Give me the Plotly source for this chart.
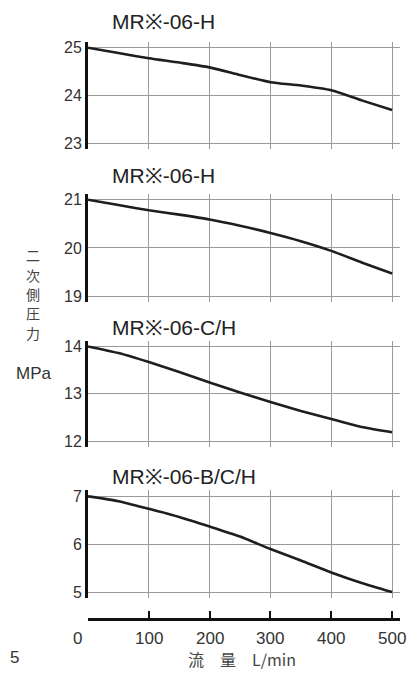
import plotly.graph_objects as go

# ---- data ----
flow = [0, 50, 100, 150, 200, 250, 300, 350, 400, 450, 500]
p_h1 = [25.0, 24.89, 24.78, 24.69, 24.59, 24.43, 24.28, 24.21, 24.11, 23.90, 23.70]
p_h2 = [21.0, 20.89, 20.78, 20.69, 20.59, 20.46, 20.31, 20.14, 19.94, 19.70, 19.47]
p_ch = [14.0, 13.86, 13.67, 13.46, 13.24, 13.03, 12.83, 12.64, 12.47, 12.30, 12.19]
p_bch = [7.0, 6.90, 6.74, 6.57, 6.37, 6.16, 5.90, 5.66, 5.41, 5.19, 5.0]
titles = ["MR※-06-H", "MR※-06-H", "MR※-06-C/H", "MR※-06-B/C/H"]
y_ticks = [[23, 24, 25], [19, 20, 21], [12, 13, 14], [5, 6, 7]]
x_ticks = [0, 100, 200, 300, 400, 500]
x_ticklabels = ["0", "100", "200", "300", "400", "500"]
y_title_chars = ["二", "次", "側", "圧", "力"]
y_unit = "MPa"
x_title = "流　量　L/min"

series = [p_h1, p_h2, p_ch, p_bch]

W, H = 418, 673
OFF = 8  # page body margin


def py(p):
    return 1 - (p - OFF) / H


def px(p):
    return (p - OFF) / W


# pixel layout of panels (top, bottom)
panels = [(40, 148), (193, 302), (341, 448), (492, 600)]
title_y = [20, 175, 328, 478]
FONT = "Liberation Sans, Arial, sans-serif"

fig = go.Figure()
for i, s in enumerate(series):
    n = i + 1
    fig.add_trace(go.Scatter(x=flow, y=s, mode="lines",
                             line=dict(color="#1e1e1e", width=2.6, shape="spline", smoothing=0.6),
                             xaxis=f"x{n}" if n > 1 else "x", yaxis=f"y{n}" if n > 1 else "y",
                             showlegend=False, hoverinfo="skip"))
    lo, hi = y_ticks[i][0], y_ticks[i][-1]
    xa = dict(domain=[px(88), px(400)], range=[0, 513], tickvals=x_ticks, showgrid=True,
              gridcolor="#9a9a9a", gridwidth=1, zeroline=False, showticklabels=False,
              showline=False, ticks="", anchor=f"y{n}" if n > 1 else "y")
    ya = dict(domain=[py(panels[i][1]), py(panels[i][0])], range=[lo - 0.115, hi + 0.125],
              tickvals=y_ticks[i], showgrid=True, gridcolor="#9a9a9a", gridwidth=1,
              zeroline=False, showline=True, linecolor="#111", linewidth=3,
              ticks="", tickfont=dict(family=FONT, size=16, color="#333"),
              anchor=f"x{n}" if n > 1 else "x")
    if n == 4:
        xa.update(anchor="free", position=py(622), showline=True, linecolor="#111", linewidth=2.5,
                  ticks="inside", ticklen=8, tickwidth=1.5, tickcolor="#111")
    key = "" if n == 1 else str(n)
    fig.update_layout(**{f"xaxis{key}": xa, f"yaxis{key}": ya})
    fig.add_annotation(text=titles[i], x=px(110), y=py(title_y[i]), xref="paper", yref="paper",
                       xanchor="left", yanchor="middle", showarrow=False,
                       font=dict(family=FONT, size=21, color="#222"))

for v, t in zip(x_ticks, x_ticklabels):
    fig.add_annotation(text=t, x=v, y=py(641), xref="x4", yref="paper", xanchor="center",
                       yanchor="middle", xshift=-11 if v == 0 else 0, showarrow=False,
                       font=dict(family=FONT, size=17, color="#333"))

for k, ch in enumerate(y_title_chars):
    fig.add_annotation(text=ch, x=px(33), y=py(255 + 19.5 * k), xref="paper", yref="paper",
                       showarrow=False, xanchor="center", yanchor="middle",
                       font=dict(family="Noto Sans CJK JP", size=14, color="#444"))
fig.add_annotation(text=y_unit, x=px(34), y=py(374), xref="paper", yref="paper", showarrow=False,
                   xanchor="center", yanchor="middle",
                   font=dict(family=FONT, size=17, color="#333"))
fig.add_annotation(text=x_title, x=px(242), y=py(662), xref="paper", yref="paper", showarrow=False,
                   xanchor="center", yanchor="middle",
                   font=dict(family="Noto Sans CJK JP, " + FONT, size=16, color="#444"))
fig.add_annotation(text="5", x=0, y=py(660), xref="paper", yref="paper", showarrow=False,
                   xanchor="left", yanchor="middle", font=dict(family=FONT, size=17, color="#333"))

fig.update_layout(width=W, height=H, margin=dict(l=0, r=0, t=0, b=0),
                  paper_bgcolor="white", plot_bgcolor="white")
fig.write_html("out.html")
